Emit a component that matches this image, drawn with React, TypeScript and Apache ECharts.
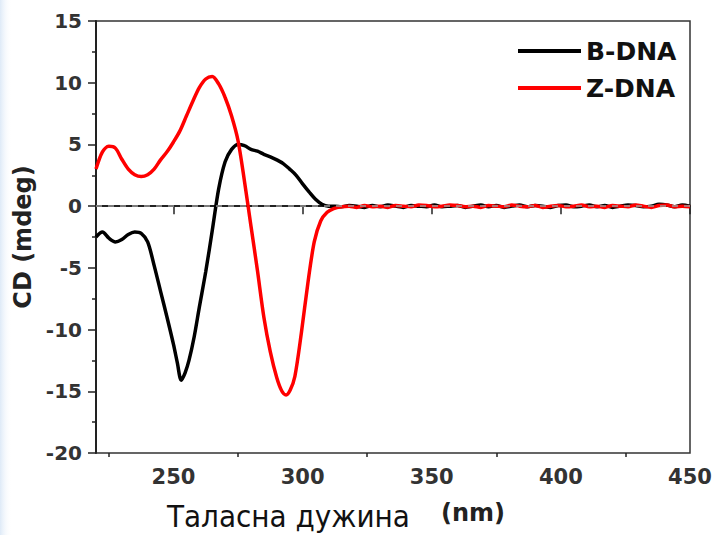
import React, { useEffect, useRef } from "react";
import * as echarts from "echarts";

// ---- Data ----
// B-DNA spectrum (structured part)
const bWavelength = [
  220, 222.5, 225, 227.5, 230, 232.5, 235, 237.5, 240, 242.5, 245, 247.5, 250, 251.5, 253, 254.5,
  256, 258, 260, 262.5, 265, 267.5, 270, 272.5, 275, 277.5, 280, 282.5, 285, 287.5, 290, 292.5, 295,
  297.5, 300, 302.5, 305, 307.5, 310, 312.5,
];
const bValues = [
  -2.5, -2.1, -2.6, -2.9, -2.7, -2.3, -2.1, -2.2, -2.9, -4.8, -6.9, -9.0, -11.2, -12.7, -14.1,
  -13.5, -12.5, -10.6, -8.2, -5.3, -2.0, 1.4, 3.6, 4.6, 5.0, 4.9, 4.6, 4.45, 4.2, 4.0, 3.75, 3.45,
  3.0, 2.5, 1.8, 1.15, 0.55, 0.15, 0.0, 0.0,
];

// Z-DNA spectrum (structured part)
const zWavelength = [
  220, 222.5, 225, 227.5, 230, 232.5, 235, 237.5, 240, 242.5, 245, 247.5, 250, 252.5, 255, 257.5,
  260, 262.5, 265, 267.5, 270, 272.5, 275, 277.5, 280, 282.5, 285, 287.5, 290, 292, 293.6, 295.2,
  297, 299.5, 302, 304.5, 307, 309.5, 312,
];
const zValues = [
  3.0, 4.4, 4.85, 4.7, 3.8, 3.0, 2.55, 2.4, 2.55, 3.0, 3.75, 4.4, 5.2, 6.1, 7.3, 8.5, 9.6, 10.3,
  10.5, 9.9, 8.8, 7.3, 5.3, 2.0, -1.6, -5.2, -9.0, -11.8, -13.9, -15.0, -15.3, -14.9, -13.8, -10.3,
  -6.3, -2.9, -1.2, -0.5, -0.2,
];

// flat, noisy baseline region beyond ~312 nm
const tailWavelength = [
  315, 318, 321, 324, 327, 330, 333, 336, 339, 342, 345, 348, 351, 354, 357, 360, 363, 366, 369,
  372, 375, 378, 381, 384, 387, 390, 393, 396, 399, 402, 405, 408, 411, 414, 417, 420, 423, 426,
  429, 432, 435, 438, 441, 444, 447, 450,
];
const bTail = [
  -0.05, 0.05, 0.0, -0.1, 0.05, -0.05, 0.1, 0.0, -0.1, 0.05, 0.0, -0.05, 0.1, -0.05, 0.0, 0.05,
  -0.1, 0.0, 0.1, -0.05, 0.05, -0.1, 0.0, 0.1, -0.05, 0.05, 0.0, -0.1, 0.05, 0.1, -0.05, 0.0, 0.1,
  -0.05, 0.05, -0.1, 0.0, 0.1, 0.05, -0.05, 0.0, 0.15, 0.1, -0.05, 0.1, 0.0,
];
const zTail = [
  -0.05, 0.0, -0.1, 0.05, -0.05, 0.0, -0.1, 0.05, 0.0, -0.05, 0.1, 0.05, -0.05, 0.0, 0.1, 0.05,
  -0.05, 0.0, -0.1, 0.05, 0.0, -0.05, 0.1, 0.0, -0.05, 0.05, -0.1, 0.0, 0.05, -0.05, 0.0, 0.1,
  -0.05, 0.0, -0.1, 0.05, 0.0, -0.05, 0.1, 0.0, -0.1, 0.05, 0.1, -0.05, 0.0, -0.05,
];

const seriesNames = ["B-DNA", "Z-DNA"];
const xMajorTicks = [250, 300, 350, 400, 450];
const xMinorTicks = [225, 275, 325, 375, 425];
const yAxisTitle = "CD (mdeg)";
const xAxisTitle = "Таласна дужина";
const xAxisUnit = "(nm)";

const pairs = (xs: number[], ys: number[]) => xs.map((x, i) => [x, ys[i]]);

export default function App() {
  const ref = useRef<HTMLDivElement>(null);

  useEffect(() => {
    if (!ref.current) return;
    const chart = echarts.init(ref.current, null, { renderer: "svg" });
    const labelFont = "DejaVu Sans";
    const axisColor = "#222";

    const bData = pairs(bWavelength, bValues).concat(pairs(tailWavelength, bTail));
    const zData = pairs(zWavelength, zValues).concat(pairs(tailWavelength, zTail));

    chart.setOption({
      animation: false,
      backgroundColor: "#ffffff",
      grid: {
        left: 96,
        top: 21,
        right: 25,
        bottom: 82,
        show: true,
        borderColor: "#333",
        borderWidth: 1.5,
      },
      legend: {
        orient: "vertical",
        left: 513,
        top: 33,
        itemWidth: 63,
        itemHeight: 4,
        itemGap: 11,
        icon: "rect",
        data: seriesNames,
        textStyle: {
          fontFamily: labelFont,
          fontWeight: "bold",
          fontSize: 25,
          color: "#111",
          lineHeight: 26,
        },
      },
      xAxis: [
        {
          type: "value",
          min: 220,
          max: 450,
          position: "bottom",
          splitLine: { show: false },
          axisLine: { lineStyle: { color: axisColor, width: 2 } },
          axisTick: {
            show: true,
            customValues: xMajorTicks,
            length: 8,
            lineStyle: { color: axisColor, width: 1.5 },
          },
          axisLabel: {
            customValues: xMajorTicks,
            margin: 13,
            fontFamily: labelFont,
            fontWeight: "bold",
            fontSize: 21,
            color: "#333",
          },
        },
        {
          type: "value",
          min: 220,
          max: 450,
          position: "bottom",
          offset: 0,
          splitLine: { show: false },
          axisLine: { show: false },
          axisTick: {
            show: true,
            customValues: xMinorTicks,
            length: 4,
            lineStyle: { color: axisColor, width: 1.5 },
          },
          axisLabel: { show: false },
        },
      ],
      yAxis: {
        type: "value",
        min: -20,
        max: 15,
        interval: 5,
        name: yAxisTitle,
        nameLocation: "middle",
        nameRotate: 90,
        nameGap: 47,
        nameTextStyle: {
          fontFamily: labelFont,
          fontWeight: "bold",
          fontSize: 24,
          color: "#222",
        },
        splitLine: { show: false },
        axisLine: { show: true, lineStyle: { color: axisColor, width: 2 } },
        axisTick: { show: true, length: 8, lineStyle: { color: axisColor, width: 1.5 } },
        minorTick: { show: true, splitNumber: 2, length: 4, lineStyle: { color: axisColor, width: 1.5 } },
        axisLabel: {
          margin: 14,
          fontFamily: labelFont,
          fontWeight: "bold",
          fontSize: 20,
          color: "#333",
        },
      },
      series: [
        {
          name: seriesNames[0],
          type: "line",
          data: bData,
          showSymbol: false,
          symbol: "none",
          smooth: 0.3,
          lineStyle: { color: "#000000", width: 3.5 },
          itemStyle: { color: "#000000" },
          markLine: {
            silent: true,
            symbol: "none",
            label: { show: false },
            lineStyle: { color: "#9a9a9a", type: [6, 6], width: 1.5 },
            data: [{ yAxis: 0 }],
          },
          z: 2,
        },
        {
          name: seriesNames[1],
          type: "line",
          data: zData,
          showSymbol: false,
          symbol: "none",
          smooth: 0.3,
          lineStyle: { color: "#ff0000", width: 3.5 },
          itemStyle: { color: "#ff0000" },
          z: 3,
        },
      ],
      graphic: [
        {
          type: "rect",
          left: 0,
          top: 0,
          shape: { width: 12, height: 535 },
          style: {
            fill: new echarts.graphic.LinearGradient(0, 0, 1, 0, [
              { offset: 0, color: "rgba(200,220,242,0.6)" },
              { offset: 1, color: "rgba(255,255,255,0)" },
            ]),
          },
          silent: true,
        },
        {
          type: "text",
          x: 167,
          y: 516,
          style: {
            text: xAxisTitle,
            fontFamily: "DejaVu Sans Condensed, DejaVu Sans",
            fontSize: 31,
            fill: "#111",
            verticalAlign: "middle",
            align: "left",
          },
        },
        {
          type: "text",
          x: 473,
          y: 513,
          style: {
            text: xAxisUnit,
            fontFamily: labelFont,
            fontWeight: "bold",
            fontSize: 24,
            fill: "#222",
            verticalAlign: "middle",
            align: "center",
          },
        },
      ],
    });

    return () => chart.dispose();
  }, []);

  return (
    <div
      ref={ref}
      style={{ position: "fixed", left: 0, top: 0, width: 715, height: 535, background: "#fff" }}
    />
  );
}
